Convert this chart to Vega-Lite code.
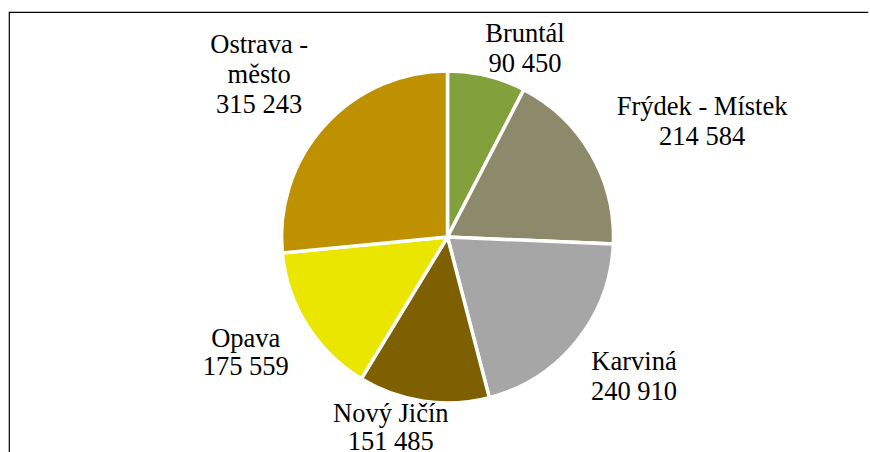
{
  "$schema": "https://vega.github.io/schema/vega-lite/v6.json",
  "width": 861,
  "height": 440,
  "autosize": {"type": "none"},
  "padding": {"left": 9, "top": 12, "right": 0, "bottom": 0},
  "background": "white",
  "view": {"stroke": "black", "strokeWidth": 1.2, "strokeDash": [859, 1303, 440, 0]},
  "config": {
    "text": {"font": "Liberation Serif"}
  },
  "data": {
    "values": [
      {"okres": "Bruntál", "obyvatel": 90450, "label": "Bruntál\n90 450"},
      {"okres": "Frýdek - Místek", "obyvatel": 214584, "label": "Frýdek - Místek\n214 584"},
      {"okres": "Karviná", "obyvatel": 240910, "label": "Karviná\n240 910"},
      {"okres": "Nový Jičín", "obyvatel": 151485, "label": "Nový Jičín\n151 485"},
      {"okres": "Opava", "obyvatel": 175559, "label": "Opava\n175 559"},
      {"okres": "Ostrava - město", "obyvatel": 315243, "label": "Ostrava -\nměsto\n315 243"}
    ]
  },
  "encoding": {
    "theta": {"field": "obyvatel", "type": "quantitative", "stack": true},
    "detail": {"field": "okres", "type": "nominal"}
  },
  "layer": [
    {
      "mark": {"type": "arc", "outerRadius": 166, "stroke": "white", "strokeWidth": 3.5, "xOffset": 8, "yOffset": 5},
      "encoding": {
        "color": {
          "field": "okres",
          "type": "nominal",
          "legend": null,
          "scale": {
            "domain": ["Bruntál", "Frýdek - Místek", "Karviná", "Nový Jičín", "Opava", "Ostrava - město"],
            "range": ["#82A03C", "#8C8A6A", "#A6A6A6", "#7F6000", "#EAE600", "#BF9000"]
          }
        }
      }
    },
    {
      "mark": {"type": "text", "radius": 217, "thetaOffset": 0.126, "xOffset": 8, "yOffset": 5, "fontSize": 26.5, "lineHeight": 30, "lineBreak": "\n", "color": "black", "align": "center", "baseline": "middle"},
      "encoding": {"text": {"condition": {"test": "datum.okres === 'Bruntál'", "field": "label"}, "value": ""}}
    },
    {
      "mark": {"type": "text", "radius": 286, "thetaOffset": 0.052, "xOffset": 8, "yOffset": 5, "fontSize": 26.5, "lineHeight": 30, "lineBreak": "\n", "color": "black", "align": "center", "baseline": "middle"},
      "encoding": {"text": {"condition": {"test": "datum.okres === 'Frýdek - Místek'", "field": "label"}, "value": ""}}
    },
    {
      "mark": {"type": "text", "radius": 224.5, "thetaOffset": -0.089, "xOffset": 8, "yOffset": 5, "fontSize": 26.5, "lineHeight": 30, "lineBreak": "\n", "color": "black", "align": "center", "baseline": "middle"},
      "encoding": {"text": {"condition": {"test": "datum.okres === 'Karviná'", "field": "label"}, "value": ""}}
    },
    {
      "mark": {"type": "text", "radius": 186, "thetaOffset": 0.164, "xOffset": 8, "yOffset": 5, "fontSize": 26.5, "lineHeight": 28, "lineBreak": "\n", "color": "black", "align": "center", "baseline": "middle"},
      "encoding": {"text": {"condition": {"test": "datum.okres === 'Nový Jičín'", "field": "label"}, "value": ""}}
    },
    {
      "mark": {"type": "text", "radius": 226, "thetaOffset": 0.093, "xOffset": 8, "yOffset": 5, "fontSize": 26.5, "lineHeight": 28, "lineBreak": "\n", "color": "black", "align": "center", "baseline": "middle"},
      "encoding": {"text": {"condition": {"test": "datum.okres === 'Opava'", "field": "label"}, "value": ""}}
    },
    {
      "mark": {"type": "text", "radius": 269, "thetaOffset": 0.058, "xOffset": 8, "yOffset": 5, "fontSize": 26.5, "lineHeight": 30, "lineBreak": "\n", "color": "black", "align": "center", "baseline": "middle"},
      "encoding": {"text": {"condition": {"test": "datum.okres === 'Ostrava - město'", "field": "label"}, "value": ""}}
    }
  ]
}
